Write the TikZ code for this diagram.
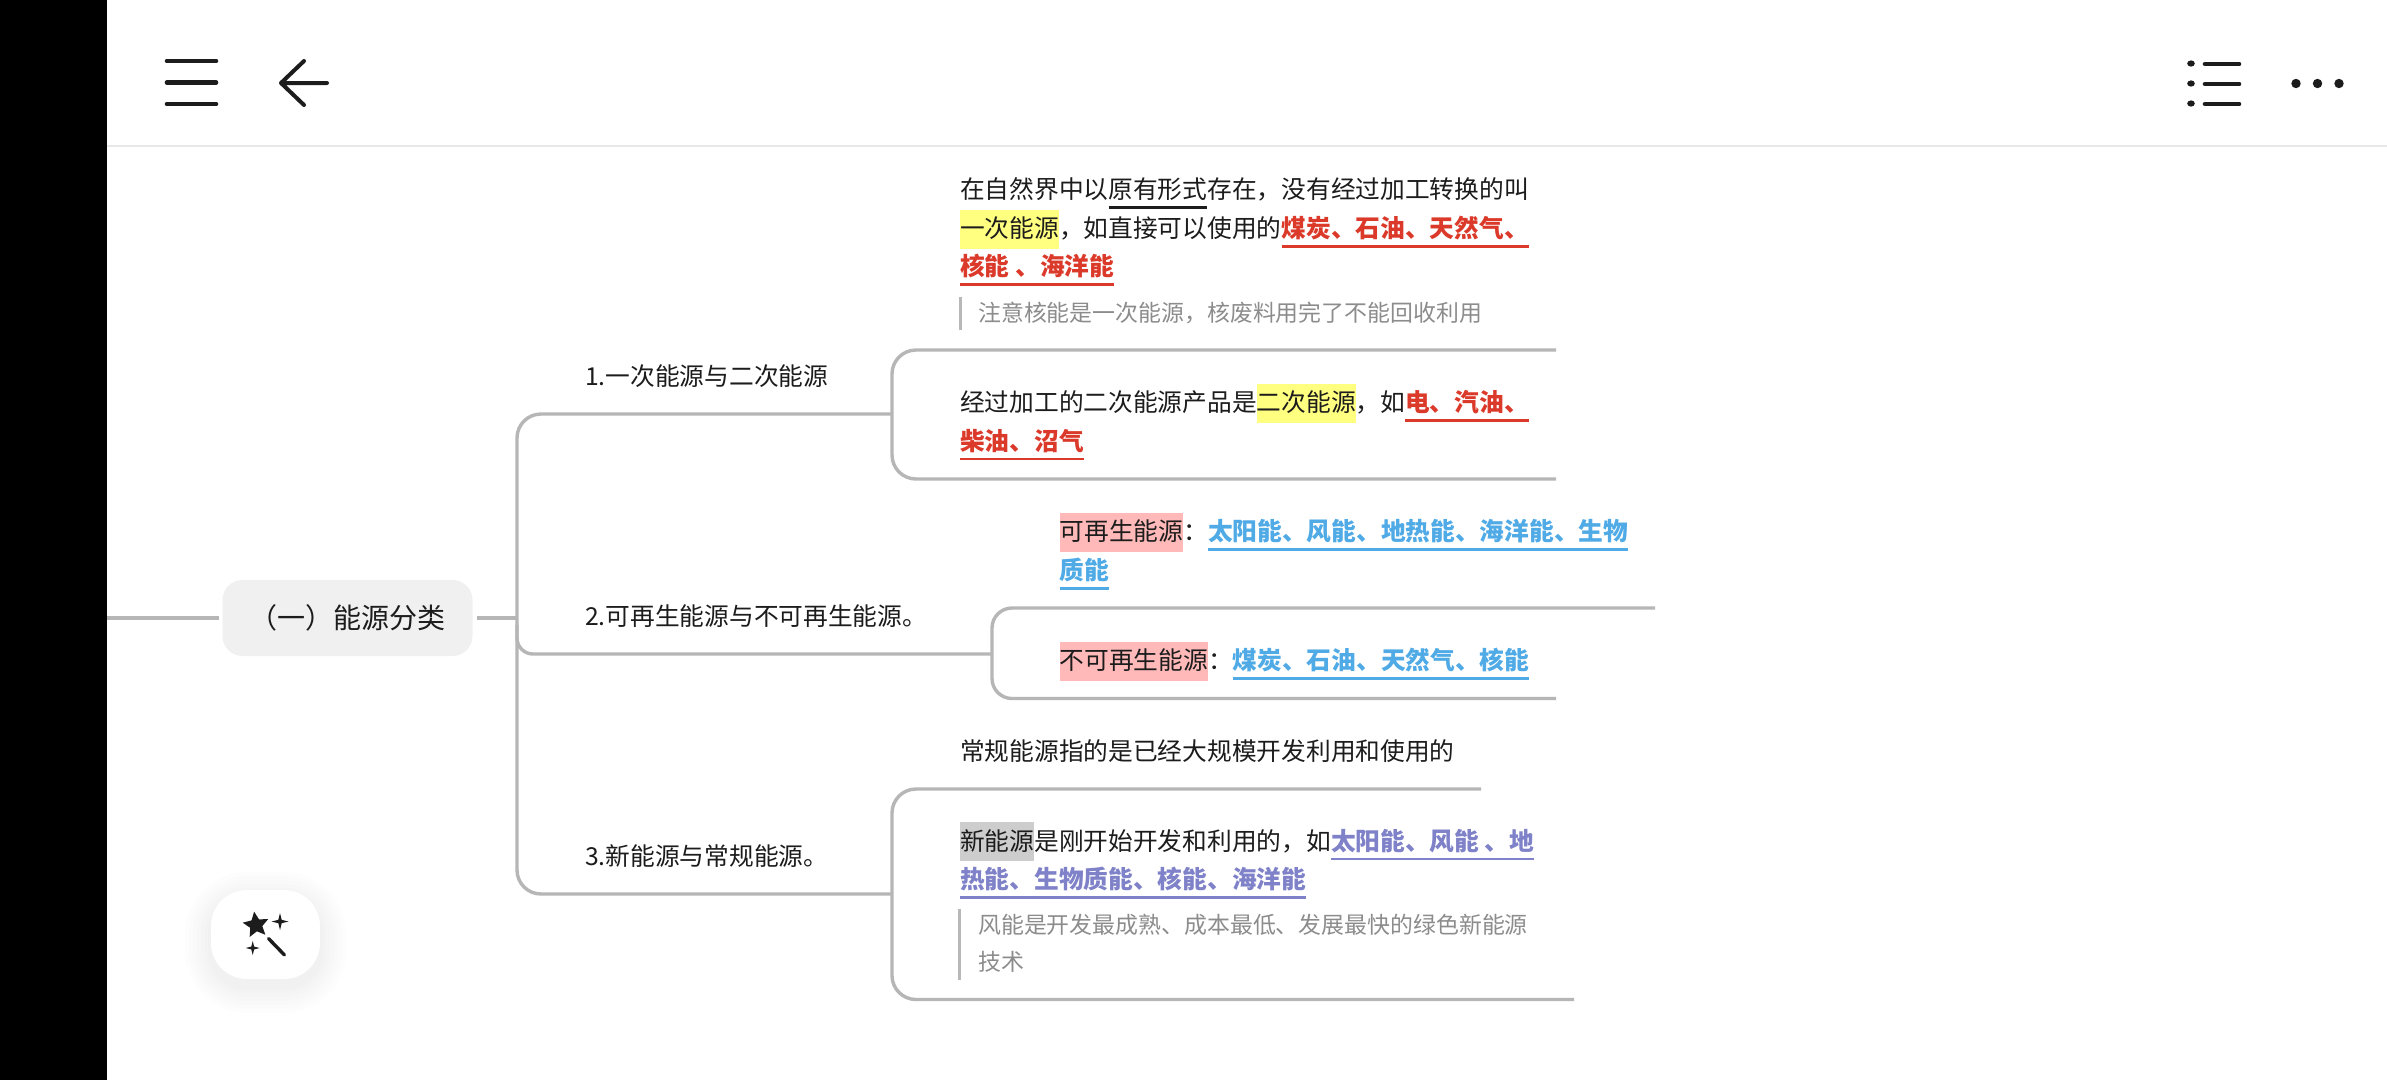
\documentclass[tikz,border=0pt]{standalone}
\usepackage{fontspec}
\setmainfont{Noto Sans CJK SC}
\definecolor{ink}{HTML}{1C1C1C}
\definecolor{conncol}{HTML}{B6B6B6}
\definecolor{notecol}{HTML}{8C8C8C}
\definecolor{redc}{HTML}{DB3A2A}
\definecolor{bluec}{HTML}{4FAAE6}
\definecolor{purc}{HTML}{7F82C8}
\definecolor{yel}{HTML}{FFFF80}
\definecolor{pinkc}{HTML}{FFB9B9}
\definecolor{greyc}{HTML}{CDCDCD}
\newsavebox\mybx
\newcommand{\myhl}[2]{\sbox\mybx{#2}\rlap{\textcolor{#1}{\rule[-11pt]{\wd\mybx}{39pt}}}\usebox\mybx}
\newcommand{\myul}[2]{\sbox\mybx{\textcolor{#1}{\bfseries #2}}\rlap{\textcolor{#1}{\rule[-10pt]{\wd\mybx}{2.3pt}}}\usebox\mybx}
\newcommand{\myulp}[2]{\sbox\mybx{#2}\rlap{\textcolor{#1}{\rule[-10pt]{\wd\mybx}{2.3pt}}}\usebox\mybx}
\tikzset{
  conn/.style={draw=conncol,line width=3.4pt},
  icon/.style={draw=ink,line width=4.6pt,line cap=round,line join=round},
  txt/.style={anchor=base west,inner sep=0pt,text=ink,font=\fontsize{24.72pt}{30pt}\selectfont},
  notetxt/.style={anchor=base west,inner sep=0pt,text=notecol,font=\fontsize{22.9pt}{28pt}\selectfont},
  notebar/.style={draw=greyc!90!black,line width=3.4pt},
  rootbox/.style={rounded corners=20pt,fill=black!6,minimum width=250pt,minimum height=76pt,inner sep=0pt,text height=22pt,text depth=0.8pt,text=ink,font=\fontsize{28pt}{34pt}\selectfont}
}
\begin{document}
\begin{tikzpicture}[x=1pt,y=-1pt]
\useasboundingbox (0,0) rectangle (2387,1079.6);
\fill[white] (0,0) rectangle (2387,1080);
% header
\draw[draw=black!9,line width=1.6pt] (107,146) -- (2387,146);
\draw[icon] (167,61) -- (216,61) (167,82.5) -- (216,82.5) (167,104) -- (216,104);
\draw[icon,line width=4pt] (304,61) -- (281,83) -- (304,105) (281,83) -- (327,83);
\fill[ink] (2191,63.5) ellipse (3.8 and 3.1) (2191,83.5) ellipse (3.8 and 3.1) (2191,103.5) ellipse (3.8 and 3.1);
\draw[icon] (2205,64) -- (2239,64) (2205,84) -- (2239,84) (2205,104) -- (2239,104);
\fill[ink] (2296,83.5) circle (4.7) (2317.5,83.5) circle (4.7) (2339,83.5) circle (4.7);
% connectors' junctions
\coordinate (lft) at (107,618);
\coordinate (trkMid) at (517,618);
\coordinate (trkTop) at (517,414);
\coordinate (trkBot) at (517,894);
\coordinate (trkTwoA) at (517,625);
\coordinate (trkTwoB) at (517,654);
\coordinate (brA) at (892,414);
\coordinate (brB) at (892,894);
\coordinate (brC) at (992,654);
\coordinate (aTopC) at (892,350);
\coordinate (aBotC) at (892,479);
\coordinate (aTopE) at (1556,350);
\coordinate (aBotE) at (1556,479);
\coordinate (bTopC) at (992,608);
\coordinate (bBotC) at (992,698.5);
\coordinate (bTopE) at (1655,608);
\coordinate (bBotE) at (1556,698.5);
\coordinate (cTopC) at (892,789);
\coordinate (cBotC) at (892,999.5);
\coordinate (cTopE) at (1481,789);
\coordinate (cBotE) at (1574,999.5);
% nodes
\node[rootbox] (root) at (347.5,618) {（一）能源分类};
\node[txt] (l1) at (585,385) {1.一次能源与二次能源};
\node[txt] (l2) at (585,625) {2.可再生能源与不可再生能源。};
\node[txt] (l3) at (585,865) {3.新能源与常规能源。};
% connectors
\draw[conn,shorten >=3pt] (lft) -- (root.west);
\draw[conn,shorten <=4pt] (root.east) -- (trkMid);
\draw[conn,rounded corners=24pt] (brA) -- (trkTop) -- (trkBot) -- (brB);
\draw[conn,rounded corners=16pt] (trkTwoA) -- (trkTwoB) -- (brC);
\draw[conn,rounded corners=24pt] (aTopE) -- (aTopC) -- (aBotC) -- (aBotE);
\draw[conn,rounded corners=20pt] (bTopE) -- (bTopC) -- (bBotC) -- (bBotE);
\draw[conn,rounded corners=24pt] (cTopE) -- (cTopC) -- (cBotC) -- (cBotE);
% texts group 1
\node[txt] (a1) at (960,198.5) {在自然界中以\myulp{ink}{原有形式}存在，没有经过加工转换的叫};
\node[txt] (a2) at (960,237.5) {\myhl{yel}{一次能源}，如直接可以使用的\myul{redc}{煤炭、石油、天然气、}};
\node[txt] (a3) at (960,275.5) {\myul{redc}{核能 、海洋能}};
\node[notetxt] (a4) at (978,321) {注意核能是一次能源，核废料用完了不能回收利用};
\coordinate (a4t) at (960.5,297);
\coordinate (a4b) at (960.5,330);
\draw[notebar] (a4t) -- (a4b);
\node[txt] (a5) at (960,411.5) {经过加工的二次能源产品是\myhl{yel}{二次能源}，如\myul{redc}{电、汽油、}};
\node[txt] (a6) at (960,450) {\myul{redc}{柴油、沼气}};
% texts group 2
\node[txt] (b1) at (1059.5,540.5) {\myhl{pinkc}{可再生能源}：\myul{bluec}{太阳能、风能、地热能、海洋能、生物}};
\node[txt] (b2) at (1059.5,579.5) {\myul{bluec}{质能}};
\node[txt] (b3) at (1059.5,669.5) {\myhl{pinkc}{不可再生能源}：\myul{bluec}{煤炭、石油、天然气、核能}};
% texts group 3
\node[txt] (c1) at (960,760) {常规能源指的是已经大规模开发利用和使用的};
\node[txt] (c2) at (960,850) {\myhl{greyc}{新能源}是刚开始开发和利用的，如\myul{purc}{太阳能、风能 、地}};
\node[txt] (c3) at (960,888.5) {\myul{purc}{热能、生物质能、核能、海洋能}};
\node[notetxt] (c4) at (978,933) {风能是开发最成熟、成本最低、发展最快的绿色新能源};
\node[notetxt] (c5) at (978,970.5) {技术};
\coordinate (c4t) at (959.5,909);
\coordinate (c4b) at (959.5,980);
\draw[notebar] (c4t) -- (c4b);
% floating wand button
\foreach \g in {26,22,18,14,10,6,3}
  \fill[black,opacity=0.007,rounded corners=36pt+\g pt] (211-\g,890-\g+8) rectangle (320+\g,979+\g+8);
\fill[white,rounded corners=36pt] (211,890) rectangle (320,979);
\fill[ink,shift={(256,925)},rotate=8]
  (270:13.5) -- (306:6.4) -- (342:13.5) -- (18:6.4) -- (54:13.5) -- (90:6.4) -- (126:13.5) -- (162:6.4) -- (198:13.5) -- (234:6.4) -- cycle;
\fill[ink,shift={(280,921.5)}] (0:8.5) -- (45:2.4) -- (90:8.5) -- (135:2.4) -- (180:8.5) -- (225:2.4) -- (270:8.5) -- (315:2.4) -- cycle;
\fill[ink,shift={(252.7,948)}] (0:7) -- (45:2) -- (90:7) -- (135:2) -- (180:7) -- (225:2) -- (270:7) -- (315:2) -- cycle;
\draw[draw=ink,line width=3.4pt,line cap=round] (268.5,938.5) -- (284.5,955);
% black side bar
\fill[black] (0,0) rectangle (106.7,1080);
\end{tikzpicture}
\end{document}
